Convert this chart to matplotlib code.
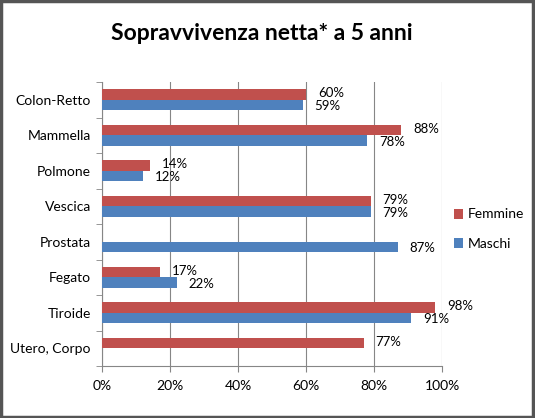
import matplotlib
matplotlib.use("Agg")
import matplotlib.pyplot as plt
from matplotlib.patches import Rectangle
import numpy as np

# --- Data (top to bottom) ---
categories = ["Colon-Retto", "Mammella", "Polmone", "Vescica",
              "Prostata", "Fegato", "Tiroide", "Utero, Corpo"]
femmine = [60, 88, 14, 79, None, 17, 98, 77]
maschi = [59, 78, 12, 79, 87, 22, 91, None]
x_ticks = [0, 20, 40, 60, 80, 100]

# --- Colours ---
RED = '#C0504D'
BLUE = '#4F81BD'
GRID = '#868686'

plt.rcParams['font.family'] = ['Lato', 'DejaVu Sans']

fig = plt.figure(figsize=(5.35, 4.18), dpi=100)
fig.patch.set_facecolor('white')
ax = fig.add_axes([102 / 535, 1 - 366 / 418, 340 / 535, 284 / 418])

n = len(categories)
y = np.arange(n)[::-1].astype(float)
h = 0.29

f_vals = np.array([np.nan if v is None else v for v in femmine], dtype=float)
m_vals = np.array([np.nan if v is None else v for v in maschi], dtype=float)

ax.barh(y + h / 2, f_vals, height=h, color=RED, label='Femmine', zorder=3)
ax.barh(y - h / 2, m_vals, height=h, color=BLUE, label='Maschi', zorder=3)

for yi, v in zip(y + h / 2, f_vals):
    if not np.isnan(v):
        ax.annotate(f"{v:.0f}%", (v, yi), xytext=(8.5, 1), textcoords='offset points',
                    ha='left', va='center', fontsize=9.5, color='black')
for yi, v in zip(y - h / 2, m_vals):
    if not np.isnan(v):
        ax.annotate(f"{v:.0f}%", (v, yi), xytext=(8.5, -1), textcoords='offset points',
                    ha='left', va='center', fontsize=9.5, color='black')

ax.set_xlim(0, 100)
ax.set_ylim(-0.5, n - 0.5)
ax.set_xticks(x_ticks)
ax.set_xticklabels([f"{t}%" for t in x_ticks], fontsize=10)
ax.set_yticks(y)
ax.set_yticklabels(categories, fontsize=10)
ax.set_yticks(np.arange(n + 1) - 0.5, minor=True)

ax.tick_params(axis='y', which='major', length=0, pad=8)
ax.tick_params(axis='y', which='minor', length=4, color=GRID, direction='out')
ax.tick_params(axis='x', length=4, color=GRID, direction='out', pad=6)

ax.grid(True, axis='x', color=GRID, linewidth=0.8, zorder=0)
ax.set_axisbelow(True)
for side in ['top', 'right']:
    ax.spines[side].set_visible(False)
for side in ['left', 'bottom']:
    ax.spines[side].set_color(GRID)
    ax.spines[side].set_linewidth(0.8)

# legend (Femmine on top)
handles, labels = ax.get_legend_handles_labels()
fig.legend(handles, labels, loc='upper left', bbox_to_anchor=(441 / 535, 1 - 196 / 418),
           frameon=False, fontsize=10, handlelength=0.7, handleheight=0.7,
           handletextpad=0.3, labelspacing=1.25)

fig.text(262 / 535, 1 - 33 / 418, "Sopravvivenza netta* a 5 anni", ha='center', va='center',
         fontsize=16.5, fontweight='bold')

# chart border
fig.patches.append(Rectangle((0.002, 0.003), 0.995, 0.994, transform=fig.transFigure,
                             fill=False, edgecolor='#555555', linewidth=2.5))

fig.savefig("out.png", dpi=100, facecolor='white')
